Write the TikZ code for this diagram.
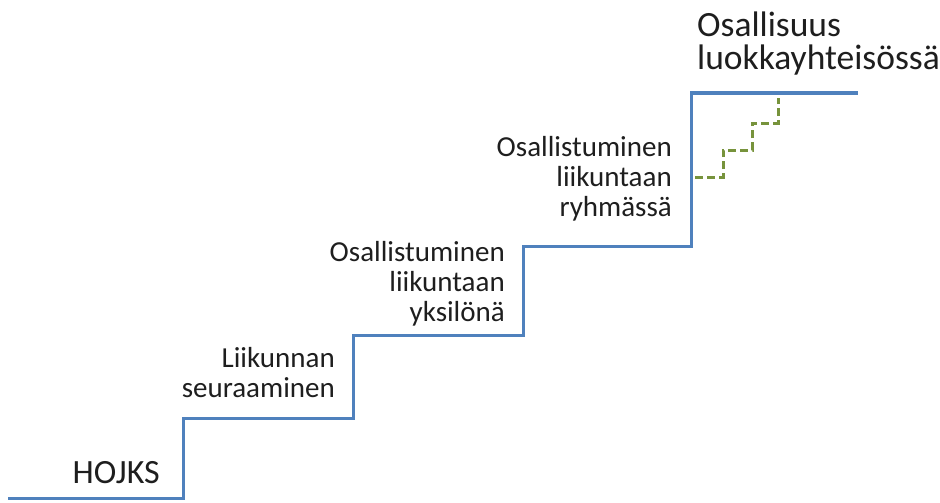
\documentclass[tikz,border=0pt]{standalone}
\usepackage{fontspec}
\setmainfont{Carlito}
\usepackage{tikz}
\usetikzlibrary{
  calc,        % coordinate arithmetic
  positioning  % relative placement of nodes
}

\definecolor{stairblue}{RGB}{79,129,189}
\definecolor{stairgreen}{RGB}{119,147,60}
\definecolor{labelgray}{RGB}{30,30,30}

\begin{document}
\begin{tikzpicture}[x=1pt, y=-1pt, % one unit = one pixel of the reference, y grows downwards
  stairline/.style={stairblue, line width=3pt, line join=miter},
  substeps/.style={stairgreen, line width=3pt, dash pattern=on 8pt off 4pt},
  steplabel/.style={font=\fontsize{29}{30}\selectfont, text=labelgray, align=right, inner sep=0pt, anchor=north east},
  biglabel/.style={font=\fontsize{35.5}{33}\selectfont, text=labelgray, inner sep=0pt}]

  \useasboundingbox (0,0) rectangle (940,503); % keep the reference margins

  % ======= main staircase =======
  \coordinate (s0) at (8,498);   % start of the ground line
  \coordinate (s1) at (183,498); % foot of the first riser
  \coordinate (t1) at (183,418); % first tread
  \coordinate (s2) at (353,418);
  \coordinate (t2) at (353,335); % second tread
  \coordinate (s3) at (523,335);
  \coordinate (t3) at (523,246); % third tread
  \coordinate (s4) at (691,246);
  \coordinate (t4) at (691,93);  % top landing
  \coordinate (s5) at (858,93);  % end of the top landing

  \draw[stairline] (s0) -- (s1) -- (t1) -- (s2) -- (t2) -- (s3) -- (t3) -- (s4) -- (t4) -- (s5); % one polyline for the whole stair

  % ======= small dashed steps on the last riser =======
  \coordinate (g0) at (695,177);
  \coordinate (g1) at (723,177);
  \coordinate (g2) at (723,150);
  \coordinate (g3) at (752,150);
  \coordinate (g4) at (752,123);
  \coordinate (g5) at (778,123);
  \coordinate (g6) at (778,98);
  \draw[substeps] (g0) -- (g1) -- (g2) -- (g3) -- (g4) -- (g5) -- (g6);

  % ======= labels of the steps =======
  \node[biglabel, font=\fontsize{34}{33}\selectfont, anchor=base east] (hojks) at (160,483) {HOJKS}; % ground level
  \node[steplabel] (seuraaminen) at (335,347) {Liikunnan\\seuraaminen};
  \node[steplabel] (yksilona) at (505,241) {Osallistuminen\\liikuntaan\\yksilönä};
  \node[steplabel] (ryhmassa) at (672,136) {Osallistuminen\\liikuntaan\\ryhmässä};
  \node[biglabel, align=left, anchor=north west] (osallisuus) at (697,12) {Osallisuus\\luokkayhteisössä}; % top of the stair

\end{tikzpicture}
\end{document}
